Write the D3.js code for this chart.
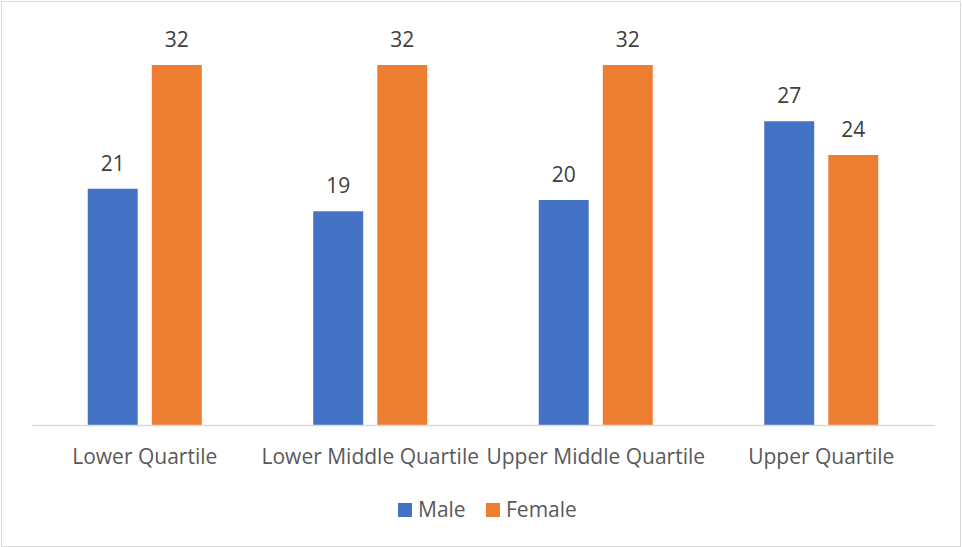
<!DOCTYPE html>
<html>
<head>
<meta charset="utf-8">
<script src="https://cdn.jsdelivr.net/npm/d3@7"></script>
<style>
  body { margin: 0; background: #fff; }
  svg { display: block; font-family: "Open Sans", sans-serif; }
</style>
</head>
<body>
<svg id="chart" width="962" height="547"></svg>
<script>
var categories = ["Lower Quartile", "Lower Middle Quartile", "Upper Middle Quartile", "Upper Quartile"];
var seriesNames = ["Male", "Female"];
var maleValues = [21, 19, 20, 27];
var femaleValues = [32, 32, 32, 24];

var colors = ["#4472c4", "#ed7d31"];

var svg = d3.select("svg#chart"),
  margin = { top: 65, right: 28, bottom: 122, left: 32 },
  width = +svg.attr("width") - margin.left - margin.right,
  height = +svg.attr("height") - margin.top - margin.bottom;

// outer frame
svg.append("rect")
  .attr("x", 1.5).attr("y", 1.5)
  .attr("width", 959).attr("height", 545)
  .attr("fill", "none")
  .attr("stroke", "#d9d9d9");

var g = svg.append("g")
  .attr("transform", "translate(" + margin.left + "," + margin.top + ")");

var data = categories.map(function (c, i) {
  return { cat: c, values: [maleValues[i], femaleValues[i]] };
});

var x0 = d3.scaleBand().domain(categories).range([0, width]);
var x1 = d3.scaleBand().domain(seriesNames).range([x0.bandwidth() / 2 - 57, x0.bandwidth() / 2 + 57]).paddingInner(0.22);
var y = d3.scaleLinear().domain([0, 32]).range([height, 0]);

var groups = g.selectAll("g.cat")
  .data(data)
  .enter()
  .append("g")
  .attr("class", "cat")
  .attr("transform", function (d) { return "translate(" + x0(d.cat) + ",0)"; });

groups.selectAll("rect")
  .data(function (d) { return d.values.map(function (v, i) { return { key: seriesNames[i], value: v, i: i }; }); })
  .enter()
  .append("rect")
  .attr("x", function (d) { return x1(d.key); })
  .attr("y", function (d) { return y(d.value); })
  .attr("width", x1.bandwidth())
  .attr("height", function (d) { return y(0) - y(d.value); })
  .attr("fill", function (d) { return colors[d.i]; });

groups.selectAll("text.val")
  .data(function (d) { return d.values.map(function (v, i) { return { key: seriesNames[i], value: v }; }); })
  .enter()
  .append("text")
  .attr("class", "val")
  .attr("x", function (d) { return x1(d.key) + x1.bandwidth() / 2; })
  .attr("y", function (d) { return y(d.value) - 18; })
  .attr("text-anchor", "middle")
  .attr("font-size", 21)
  .attr("fill", "#404040")
  .text(function (d) { return d.value; });

// x axis
var xAxis = g.append("g")
  .attr("transform", "translate(0," + height + ")")
  .call(d3.axisBottom(x0).tickSize(0).tickPadding(0));
xAxis.select(".domain").attr("stroke", "#d9d9d9").attr("stroke-width", 1.5);
xAxis.selectAll("text")
  .attr("dy", 0)
  .attr("y", 39)
  .attr("font-size", 21)
  .attr("font-family", "Open Sans, sans-serif")
  .attr("fill", "#595959");

// legend
var legendX = [398, 486];
var legend = svg.append("g")
  .selectAll("g")
  .data(seriesNames)
  .enter()
  .append("g")
  .attr("transform", function (d, i) { return "translate(" + legendX[i] + ",503)"; });

legend.append("rect")
  .attr("width", 14)
  .attr("height", 14)
  .attr("fill", function (d, i) { return colors[i]; });

legend.append("text")
  .attr("x", 20)
  .attr("y", 14)
  .attr("font-size", 21)
  .attr("fill", "#595959")
  .text(function (d) { return d; });
</script>
</body>
</html>
